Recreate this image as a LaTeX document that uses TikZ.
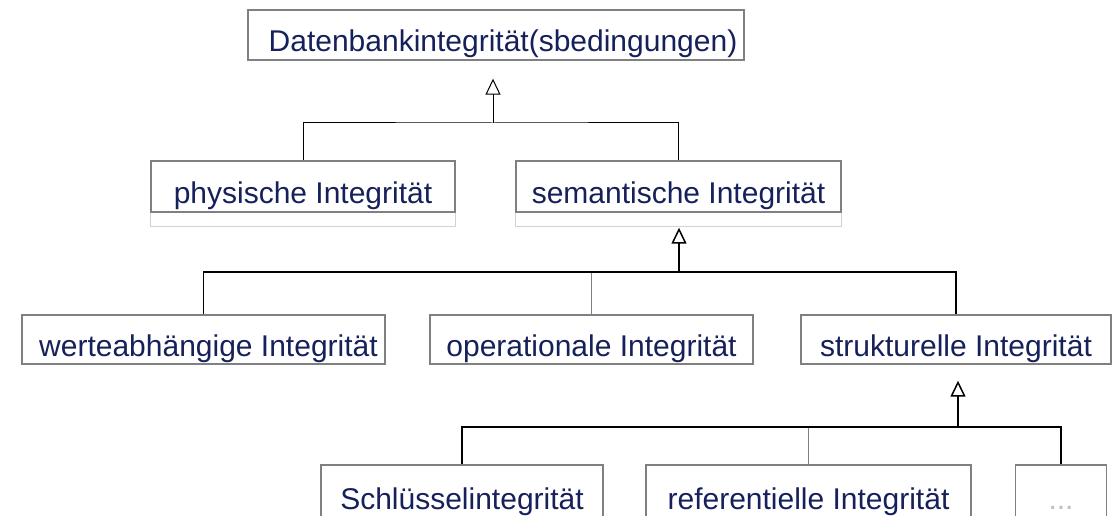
\documentclass[tikz,border=0pt]{standalone}
\usepackage{fontspec}
\setmainfont{Liberation Sans}
\usetikzlibrary{positioning, arrows.meta}
\definecolor{navy}{RGB}{22,32,90}
\definecolor{rahmen}{RGB}{128,128,128}

\begin{document}
\begin{tikzpicture}[x=1pt, y=-1pt,
    klasse/.style={rectangle, draw=rahmen, line width=1.4pt, minimum height=50pt, inner sep=0pt, text height=33pt, text depth=0pt, text=navy, font=\fontsize{30}{36}\selectfont},
    unten/.style={klasse, minimum height=56pt},
    erbt/.style={-{Triangle[open, length=16pt, width=15pt]}, line width=1.5pt},
    ast/.style={line width=1.5pt},
    grauast/.style={draw=rahmen, line width=1.5pt},
    schatten/.style={draw=gray!35, line width=1pt}
]
\useasboundingbox (0,0) rectangle (1116,516);
\clip (0,0) rectangle (1116,516);

% Ebenen
\node[klasse, minimum width=496pt] (db) at (496,35) {\hspace*{14pt}Datenbankintegrit\"at(sbedingungen)};

\node[klasse, minimum width=304pt, minimum height=51pt] (phys) at (303,186.5) {physische Integrit\"at};
\node[klasse, minimum width=325pt, minimum height=51pt] (sem) at (678.5,186.5) {semantische Integrit\"at};

\node[klasse, minimum width=363pt, minimum height=49pt] (werte) at (203.5,339.5) {\hspace*{10pt}werteabh\"angige Integrit\"at};
\node[klasse, minimum width=323pt, minimum height=49pt] (oper) at (591.5,339.5) {operationale Integrit\"at};
\node[klasse, minimum width=310pt, minimum height=49pt] (strukt) at (956,339.5) {strukturelle Integrit\"at};

\node[unten, minimum width=282pt] (schl) at (462,493) {Schl\"usselintegrit\"at};
\node[unten, minimum width=325pt] (ref) at (808.5,493) {referentielle Integrit\"at};
\node[unten, minimum width=91pt, text=gray!50] (rest) at (1061,493) {...};

\draw[schatten] (phys.south west) -- ++(0,14) -| (phys.south east);
\draw[schatten] (sem.south west) -- ++(0,14) -| (sem.south east);

% Verbindungen
\coordinate (j1) at (493,123);
\coordinate (j2) at (679,272);
\coordinate (j3) at (958,427);

\draw[line width=1pt] (phys.north) |- (j1) -| (sem.north);
\draw[erbt, line width=1pt, shorten >=18pt] (j1) -- (j1 |- db.south);

\draw[grauast] (oper.north) -- (oper.north |- j2);
\draw[ast] (werte.north) |- (j2) -| (strukt.north);
\draw[erbt, shorten >=15pt] (j2) -- (j2 |- sem.south);

\draw[grauast] (ref.north) -- (ref.north |- j3);
\draw[ast] (schl.north) |- (j3) -| (rest.north);
\draw[erbt, shorten >=16pt] (j3) -- (j3 |- strukt.south);

\end{tikzpicture}
\end{document}
